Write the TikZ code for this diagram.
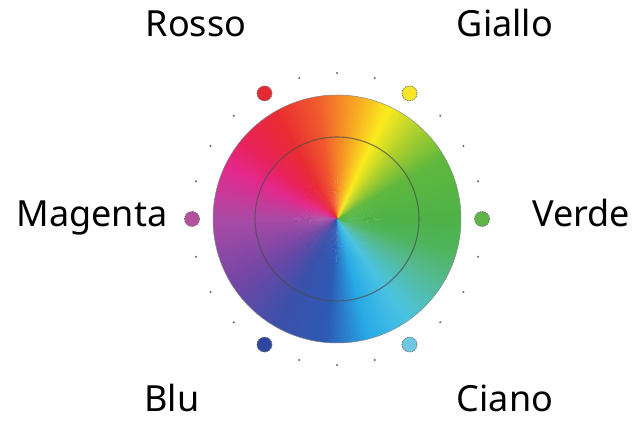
\documentclass[tikz,border=0pt]{standalone}
\usepackage{fontspec}
\setmainfont{Noto Sans}
\usetikzlibrary{calc}
\begin{document}
\begin{tikzpicture}[x=1pt,y=1pt,
  lbl/.style={anchor=base,inner sep=0pt,font=\fontsize{36}{42}\selectfont},
  cdot/.style={circle,minimum size=15pt,inner sep=0pt,draw=black!55,dash pattern=on 1.6pt off 0.9pt,line width=0.7pt},
  gdot/.style={circle,fill=black!60,minimum size=2.2pt,inner sep=0pt}]
\useasboundingbox (0,0) rectangle (637,423);
\coordinate (c) at (337,204);
% conic colour wheel
\foreach \a/\b/\ra/\ga/\ba/\rb/\gb/\bb in {
  0/30/78/178/72/95/184/62,
  30/50/95/184/62/180/210/45,
  50/65/180/210/45/250/235/30,
  65/80/250/235/30/248/170/35,
  80/100/248/170/35/240/90/45,
  100/120/240/90/45/233/45/50,
  120/140/233/45/50/232/35/90,
  140/155/232/35/90/228/40/140,
  155/180/228/40/140/170/75/165,
  180/210/170/75/165/120/70/165,
  210/240/120/70/165/60/80/170,
  240/265/60/80/170/45/90/180,
  265/285/45/90/180/40/170/230,
  285/305/40/170/230/75/195/225,
  305/330/75/195/225/85/185/140,
  330/345/85/185/140/78/180/90,
  345/360/78/180/90/78/178/72}{
  \definecolor{ca}{RGB}{\ra,\ga,\ba}
  \definecolor{cb}{RGB}{\rb,\gb,\bb}
  \pgfmathtruncatemacro\n{\b-\a-1}
  \foreach \k in {0,...,\n}{
    \pgfmathsetmacro\p{100*(\k+0.5)/(\b-\a)}
    \pgfmathsetmacro\s{\a+\k}
    \pgfmathsetmacro\e{\a+\k+1.6}
    \fill[cb!\p!ca] (c) -- ++(\s:124) arc[start angle=\s,end angle=\e,radius=124] -- cycle;
  }
}
\draw[black!45,line width=0.5pt] (c) circle[radius=124];
\draw[black!70,opacity=0.7,line width=1.1pt] (c) circle[radius=82];
% colour dots
\definecolor{dRed}{RGB}{230,40,50}
\definecolor{dYel}{RGB}{245,230,40}
\definecolor{dMag}{RGB}{180,80,160}
\definecolor{dGrn}{RGB}{95,180,70}
\definecolor{dBlu}{RGB}{45,70,160}
\definecolor{dCya}{RGB}{110,200,225}
\node[cdot,fill=dGrn] (pg) at ($(c)+(0:145)$) {};
\node[cdot,fill=dYel] (py) at ($(c)+(60:145)$) {};
\node[cdot,fill=dRed] (pr) at ($(c)+(120:145)$) {};
\node[cdot,fill=dMag] (pm) at ($(c)+(180:145)$) {};
\node[cdot,fill=dBlu] (pb) at ($(c)+(240:145)$) {};
\node[cdot,fill=dCya] (pc) at ($(c)+(300:145)$) {};
% small grey dots
\foreach \t in {15,30,45,75,90,105,135,150,165,195,210,225,255,270,285,315,330,345}{
  \node[gdot] (g\t) at ($(c)+(\t:146)$) {};
}
% labels
\node[lbl] (tr) at (196,386) {Rosso};
\node[lbl] (ty) at (505,386) {Giallo};
\node[lbl] (tm) at (92,196) {Magenta};
\node[lbl] (tv) at (581,196) {Verde};
\node[lbl] (tb) at (172,12) {Blu};
\node[lbl] (tc) at (505,12) {Ciano};
\end{tikzpicture}
\end{document}
